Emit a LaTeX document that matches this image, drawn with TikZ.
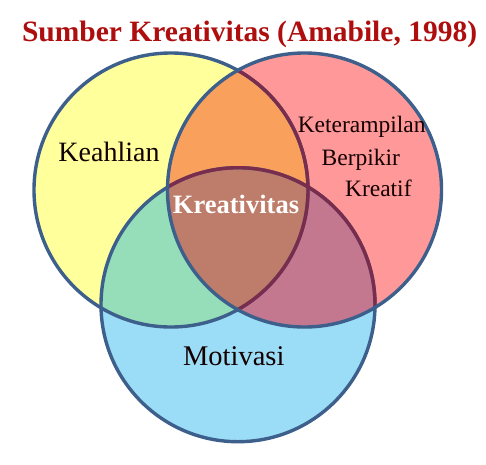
\documentclass[tikz,border=0pt]{standalone}
\usepackage{fontspec}
\setmainfont{Liberation Serif}

\definecolor{ringblue}{RGB}{61,95,140}
\definecolor{ringred}{RGB}{122,44,76}
\definecolor{titlered}{RGB}{174,14,14}
\definecolor{fyellow}{RGB}{255,255,156}
\definecolor{fpink}{RGB}{255,153,153}
\definecolor{fblue}{RGB}{155,221,246}
\definecolor{forange}{RGB}{249,160,92}
\definecolor{fgreen}{RGB}{150,222,186}
\definecolor{fmauve}{RGB}{196,120,144}
\definecolor{fbrown}{RGB}{190,125,106}

\newcommand\rad{137pt}

\tikzset{
    ring/.style={line width=3.4pt},
    word/.style={inner sep=0pt, anchor=base, text=black!92!red},
}

\begin{document}
\begin{tikzpicture}[x=1pt,y=-1pt]
    \useasboundingbox (0,0) rectangle (486,464);

    \coordinate (keahlian) at (171,190);
    \coordinate (berpikir) at (304.5,190);
    \coordinate (motivasi) at (238,304.7);

    % Fills
    \fill[fyellow] (keahlian) circle (\rad);
    \fill[fpink] (berpikir) circle (\rad);
    \fill[fblue] (motivasi) circle (\rad);
    \begin{scope}
        \clip (keahlian) circle (\rad);
        \fill[forange] (berpikir) circle (\rad);
        \fill[fgreen] (motivasi) circle (\rad);
    \end{scope}
    \begin{scope}
        \clip (berpikir) circle (\rad);
        \fill[fmauve] (motivasi) circle (\rad);
        \clip (keahlian) circle (\rad);
        \fill[fbrown] (motivasi) circle (\rad);
    \end{scope}

    % Outlines
    \draw[ring, ringblue] (keahlian) circle (\rad);
    \draw[ring, ringblue] (motivasi) circle (\rad);
    \begin{scope}
        \clip (berpikir) circle (\rad);
        \draw[ring, ringred] (keahlian) circle (\rad);
        \draw[ring, ringred] (motivasi) circle (\rad);
    \end{scope}
    \draw[ring, ringblue] (berpikir) circle (\rad);

    % Labels
    \node[word, text=titlered, font=\bfseries\fontsize{29.5}{32}\selectfont] (title) at (249.6,41.5) {Sumber Kreativitas (Amabile, 1998)};
    \node[word, font=\fontsize{28}{30}\selectfont] (keahlianlabel) at (109,161.5) {Keahlian};
    \node[word, font=\fontsize{23.5}{26}\selectfont] (line1) at (361.7,132.3) {Keterampilan};
    \node[word, font=\fontsize{23.5}{26}\selectfont] (line2) at (360.8,165) {Berpikir};
    \node[word, font=\fontsize{23.5}{26}\selectfont] (line3) at (378.3,196.7) {Kreatif};
    \node[word, text=white, font=\bfseries\fontsize{26.5}{28}\selectfont] (center) at (236,213.3) {Kreativitas};
    \node[word, font=\fontsize{28.5}{30}\selectfont] (motivasilabel) at (233.8,365) {Motivasi};
\end{tikzpicture}
\end{document}
